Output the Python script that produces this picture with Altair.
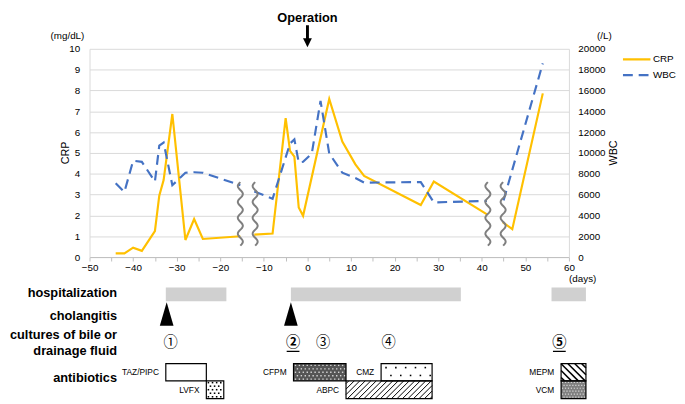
import altair as alt
import pandas as pd

# ---------------- values ----------------
series_names = ["CRP", "WBC"]

crp_day_1 = [-44, -42, -40, -38, -35, -34, -33, -31, -28, -26, -24, -15.4]
crp_val_1 = [0.18, 0.18, 0.45, 0.30, 1.25, 2.95, 3.70, 6.87, 0.82, 1.83, 0.87, 1.00]
crp_day_2 = [-12.2, -8, -5, -4, -3, -2, -1, 5, 8, 11, 13, 26, 29, 41.2]
crp_val_2 = [1.08, 1.13, 6.67, 5.10, 4.82, 2.38, 1.98, 7.59, 5.55, 4.45, 3.90, 2.50, 3.63, 2.05]
crp_day_3 = [44.8, 47, 54]
crp_val_3 = [1.68, 1.34, 7.86]

wbc_day_1 = [-44, -42, -40, -38, -35, -34, -33, -31, -28, -26, -24, -15.4]
wbc_val_1 = [7100, 6250, 9250, 9150, 7250, 10700, 11000, 6900, 8100, 8150, 8100, 6900]
wbc_day_2 = [-12.2, -8, -4, -3, -2, -1, 1, 3, 5, 8, 11, 13, 26, 29, 41.2]
wbc_val_2 = [6300, 5600, 10900, 11300, 9100, 9150, 9950, 15000, 9950, 8100, 7600, 7150, 7200, 5250, 5400]
wbc_day_3 = [45.0, 54]
wbc_val_3 = [5450, 18600]

operation_day = [0]
operation_label = ["Operation"]

hosp_start = [-32.5, -3.8, 56.0]
hosp_end = [-18.6, 35.2, 63.9]
cholangitis_day = [-32.3, -3.8]
culture_day = [-31.4, -3.3, 3.6, 18.6, 57.8]
culture_label = ["①", "②", "③", "④", "⑤"]
culture_key = [False, True, False, False, True]

abx_name = ["TAZ/PIPC", "LVFX", "CFPM", "ABPC", "CMZ", "MEPM", "VCM"]
abx_start = [-32.5, -23.2, -3.2, 8.85, 16.9, 58.2, 58.2]
abx_end = [-23.2, -19.2, 8.85, 28.6, 28.6, 63.9, 63.9]
abx_row = ["upper", "lower", "upper", "lower", "upper", "upper", "lower"]

break_day = [-15.4, -12.0, 41.4, 44.9]
row_label = ["hospitalization", "cholangitis", "cultures of bile or", "drainage fluid", "antibiotics"]

x_tick_values = list(range(-50, 61, 5))
crp_tick_values = list(range(0, 11))
wbc_tick_values = list(range(0, 20001, 2000))

# ---------------- layout / style ----------------
W, H = 488, 212
S = W / 110.0
FONT = "Liberation Sans"
CRP_COLOR = "#FFC000"
WBC_COLOR = "#4472C4"
HOSP_Y = (H + 31, H + 45)
TRI_Y = H + 58
CULT_Y = H + 88
ULINE_Y = H + 96
ROW_Y = {"upper": (H + 108.5, H + 126), "lower": (H + 126, H + 144)}
LABEL_Y = [H + 37, H + 60, H + 79.5, H + 95.5, H + 123]
abx_fill = {"TAZ/PIPC": "white", "LVFX": "white", "CFPM": "#555555", "ABPC": "white",
            "CMZ": "white", "MEPM": "white", "VCM": "#808080"}

# ---------------- tables ----------------
def seg_df(days_list, vals_list, col):
    rows = []
    for s, (ds, vs) in enumerate(zip(days_list, vals_list)):
        for i, (d, v) in enumerate(zip(ds, vs)):
            rows.append({"day": d, col: v, "seg": s, "i": i})
    return pd.DataFrame(rows)

crp_df = seg_df([crp_day_1, crp_day_2, crp_day_3], [crp_val_1, crp_val_2, crp_val_3], "crp")
wbc_df = seg_df([wbc_day_1, wbc_day_2, wbc_day_3], [wbc_val_1, wbc_val_2, wbc_val_3], "wbc")
hosp_df = pd.DataFrame({"start": hosp_start, "end": hosp_end})
chol_df = pd.DataFrame({"day": cholangitis_day})
cult_df = pd.DataFrame({"day": culture_day, "label": culture_label, "key": culture_key})
abx_df = pd.DataFrame({"name": abx_name, "start": abx_start, "end": abx_end, "row": abx_row})
brk_df = pd.DataFrame({"bx": break_day, "bid": list(range(len(break_day)))})
op_df = pd.DataFrame({"day": operation_day, "label": operation_label})
leg_df = pd.DataFrame({"name": series_names})
lab_df = pd.DataFrame({"label": row_label})

# ---------------- scales / axes ----------------
xscale = alt.Scale(domain=[-50, 60], nice=False, zero=False)
xaxis = alt.Axis(values=x_tick_values, labelExpr="datum.value % 10 == 0 ? datum.label : ''",
                 grid=False, domainColor="#bfbfbf", tickColor="#bfbfbf", tickSize=4,
                 labelFontSize=10, labelFont=FONT, labelColor="black", labelPadding=2,
                 labelFlush=False, labelOverlap=False, title=None)


def X(f):
    return alt.X(f, type="quantitative", scale=xscale, axis=xaxis)


crp_scale = alt.Scale(domain=[0, 10], nice=False, zero=False)
crp_axis = alt.Axis(values=crp_tick_values, format="d", grid=True, gridColor="#d9d9d9",
                    domainColor="#d9d9d9", ticks=False, labelPadding=10, labelFontSize=10,
                    labelFont=FONT, labelColor="black", title=None, orient="left")
wbc_scale = alt.Scale(domain=[0, 20000], nice=False, zero=False)
wbc_axis = alt.Axis(values=wbc_tick_values, format="d", grid=False, domainColor="#d9d9d9",
                    ticks=False, labelPadding=9, labelFontSize=10, labelFont=FONT,
                    labelColor="black", title=None, orient="right")


def Y3(f):
    return alt.Y(f, type="quantitative", scale=crp_scale, axis=None)


# ---------------- group 1 : CRP ----------------
crp_line = alt.Chart(crp_df).mark_line(color=CRP_COLOR, strokeWidth=2.2).encode(
    x=X("day"), y=alt.Y("crp", type="quantitative", scale=crp_scale, axis=crp_axis),
    detail="seg:N", order="i:Q")
g1 = alt.layer(crp_line)

# ---------------- group 2 : WBC ----------------
wbc_line = alt.Chart(wbc_df).mark_line(color=WBC_COLOR, strokeWidth=2.2, strokeDash=[10, 6]).encode(
    x=X("day"), y=alt.Y("wbc", type="quantitative", scale=wbc_scale, axis=wbc_axis),
    detail="seg:N", order="i:Q")
g2 = alt.layer(wbc_line)

# ---------------- group 3 : annotations ----------------
layers = []

# axis break symbols
brk = (alt.Chart(brk_df)
       .transform_calculate(t="sequence(0, 1.0001, 0.02)")
       .transform_flatten(["t"])
       .transform_calculate(wx=f"datum.bx + {2.6 / S}*sin(2*PI*4*datum.t)")
       .transform_calculate(wy="0.55 + 3.05*datum.t")
       .mark_line(color="#7f7f7f", strokeWidth=2)
       .encode(x=X("wx"), y=Y3("wy"), detail="bid:N", order="t:Q"))
layers.append(brk)

# axis unit / title texts
def ptext(txt, x, y, size=10, angle=0, weight="normal", align="center"):
    return alt.Chart(pd.DataFrame({"t": [txt]})).mark_text(
        font=FONT, fontSize=size, angle=angle, fontWeight=weight, align=align,
        baseline="middle", color="black").encode(text="t:N", x=alt.value(x), y=alt.value(y))

layers += [
    ptext("(mg/dL)", -22.5, -13),
    ptext("(/L)", W + 36, -13),
    ptext("CRP", -24, H / 2, size=11, angle=270),
    ptext("WBC", W + 46, H / 2, size=11, angle=270),
    ptext("(days)", W + 14, H + 22),
]

# legend
for nm, yy, dash in [("CRP", 10.7, [1, 0]), ("WBC", 26.7, [10, 6])]:
    col = CRP_COLOR if nm == "CRP" else WBC_COLOR
    layers.append(alt.Chart(leg_df).transform_filter(alt.datum.name == nm)
                  .mark_rule(color=col, strokeWidth=2.2, strokeDash=dash)
                  .encode(x=alt.value(W + 55), x2=alt.value(W + 83), y=alt.value(yy)))
    layers.append(alt.Chart(leg_df).transform_filter(alt.datum.name == nm)
                  .mark_text(font=FONT, fontSize=10, align="left", baseline="middle", color="black")
                  .encode(text="name:N", x=alt.value(W + 85.5), y=alt.value(yy)))

# operation arrow
layers.append(alt.Chart(op_df).mark_text(font=FONT, fontSize=13, fontWeight="bold", color="black",
                                         baseline="middle").encode(x=X("day"), y=alt.value(-31), text="label:N"))
layers.append(alt.Chart(op_df).mark_rule(color="black", strokeWidth=3).encode(
    x=X("day"), y=alt.value(-24), y2=alt.value(-9)))
layers.append(alt.Chart(op_df).mark_point(shape="M-1,-1L1,-1L0,1Z", size=81, filled=True,
                                          color="black", opacity=1).encode(x=X("day"), y=alt.value(-6.2)))

# row labels
for lab, yy in zip(row_label, LABEL_Y):
    layers.append(alt.Chart(lab_df).transform_filter(alt.datum.label == lab)
                  .mark_text(font=FONT, fontSize=13, fontWeight="bold", align="right",
                             baseline="middle", color="black")
                  .encode(text="label:N", x=alt.value(28), y=alt.value(yy)))

# hospitalization
layers.append(alt.Chart(hosp_df).mark_rect(color="#d0d0d0").encode(
    x=X("start"), x2="end", y=alt.value(HOSP_Y[0]), y2=alt.value(HOSP_Y[1])))

# cholangitis triangles
layers.append(alt.Chart(chol_df).mark_point(shape="M0,-1L0.58,1L-0.58,1Z", size=576, filled=True,
                                            color="black", opacity=1)
              .encode(x=X("day"), y=alt.value(TRI_Y)))

# cultures
for key, wt in [(False, "normal"), (True, "bold")]:
    layers.append(alt.Chart(cult_df).transform_filter(alt.datum.key == key)
                  .mark_text(font="Noto Sans CJK JP", fontSize=14.5, fontWeight=wt, color="black",
                             baseline="middle")
                  .encode(x=X("day"), y=alt.value(CULT_Y), text="label:N"))
layers.append(alt.Chart(cult_df).transform_filter(alt.datum.key == True)
              .mark_point(shape="M-1,0L1,0", size=169, strokeWidth=1.3, color="black",
                          filled=False, opacity=1)
              .encode(x=X("day"), y=alt.value(ULINE_Y)))

# antibiotic boxes (fill)
fill_scale = alt.Scale(domain=abx_name, range=[abx_fill[n] for n in abx_name])
for row in ["upper", "lower"]:
    layers.append(alt.Chart(abx_df).transform_filter(alt.datum.row == row)
                  .mark_rect(strokeWidth=0)
                  .encode(x=X("start"), x2="end", y=alt.value(ROW_Y[row][0]),
                          y2=alt.value(ROW_Y[row][1]),
                          fill=alt.Fill("name:N", scale=fill_scale, legend=None)))

yt_expr = f"datum.row == 'upper' ? {ROW_Y['upper'][0]} : {ROW_Y['lower'][0]}"
yb_expr = f"datum.row == 'upper' ? {ROW_Y['upper'][1]} : {ROW_Y['lower'][1]}"


def box_base(names):
    return (alt.Chart(abx_df)
            .transform_filter(alt.FieldOneOfPredicate(field="name", oneOf=names))
            .transform_calculate(pl=f"(datum.start + 50) * {S}")
            .transform_calculate(pr=f"(datum.end + 50) * {S}")
            .transform_calculate(yt=yt_expr)
            .transform_calculate(yb=yb_expr))


def hatch(names, direction, gap, width):
    b = box_base(names)
    if direction == "fwd":
        b = b.transform_calculate(c0="datum.pl + datum.yt").transform_calculate(c1="datum.pr + datum.yb")
    else:
        b = b.transform_calculate(c0="datum.pl - datum.yb").transform_calculate(c1="datum.pr - datum.yt")
    b = (b.transform_calculate(k=f"sequence(0, ceil((datum.c1 - datum.c0) / {gap}))")
         .transform_flatten(["k"])
         .transform_calculate(c=f"datum.c0 + (datum.k + 0.5) * {gap}"))
    if direction == "fwd":
        b = (b.transform_calculate(xs="max(datum.pl, datum.c - datum.yb)")
             .transform_calculate(xe="min(datum.pr, datum.c - datum.yt)")
             .transform_calculate(ys="datum.c - datum.xs")
             .transform_calculate(ye="datum.c - datum.xe"))
    else:
        b = (b.transform_calculate(xs="max(datum.pl, datum.c + datum.yt)")
             .transform_calculate(xe="min(datum.pr, datum.c + datum.yb)")
             .transform_calculate(ys="datum.xs - datum.c")
             .transform_calculate(ye="datum.xe - datum.c"))
    b = (b.transform_filter("datum.xe > datum.xs + 0.3")
         .transform_calculate(d1=f"datum.xs / {S} - 50")
         .transform_calculate(d2=f"datum.xe / {S} - 50")
         .transform_calculate(v1=f"10 * ({H} - datum.ys) / {H}")
         .transform_calculate(v2=f"10 * ({H} - datum.ye) / {H}"))
    return b.mark_rule(color="black", strokeWidth=width).encode(
        x=X("d1"), x2="d2", y=Y3("v1"), y2="v2")


def dots(names, gx, gy, size, color, stagger):
    b = (box_base(names)
         .transform_calculate(ci=f"sequence(0, ceil((datum.pr - datum.pl) / {gx}) + 1)")
         .transform_calculate(rj=f"sequence(0, floor((datum.yb - datum.yt) / {gy}))")
         .transform_flatten(["ci"])
         .transform_flatten(["rj"])
         .transform_calculate(px=f"datum.pl + (datum.ci + 0.5) * {gx} + (datum.rj % 2) * {gx / 2 if stagger else 0}")
         .transform_calculate(py=f"datum.yt + (datum.rj + 0.5) * {gy}")
         .transform_filter("datum.px > datum.pl + 1 && datum.px < datum.pr - 1")
         .transform_calculate(dd=f"datum.px / {S} - 50")
         .transform_calculate(vv=f"10 * ({H} - datum.py) / {H}"))
    return b.mark_square(size=size, color=color, opacity=1).encode(x=X("dd"), y=Y3("vv"))


layers.append(hatch(["ABPC"], "fwd", 5.6, 1.0))
layers.append(hatch(["MEPM"], "back", 7.0, 1.5))
layers.append(dots(["LVFX"], 4.2, 3.6, 2.5, "black", True))
layers.append(dots(["CMZ"], 10, 8, 2.5, "black", True))
layers.append(dots(["CFPM"], 4, 3.5, 2.0, "#d8d8d8", True))
layers.append(dots(["VCM"], 3, 3, 1.5, "#d8d8d8", True))

# antibiotic boxes (outline) and labels
for row in ["upper", "lower"]:
    layers.append(alt.Chart(abx_df).transform_filter(alt.datum.row == row)
                  .mark_rect(fillOpacity=0, stroke="black", strokeWidth=1.2)
                  .encode(x=X("start"), x2="end", y=alt.value(ROW_Y[row][0]),
                          y2=alt.value(ROW_Y[row][1])))
    layers.append(alt.Chart(abx_df).transform_filter(alt.datum.row == row)
                  .mark_text(font=FONT, fontSize=8.5, align="right", dx=-7, baseline="middle",
                             color="black")
                  .encode(x=X("start"), y=alt.value((ROW_Y[row][0] + ROW_Y[row][1]) / 2),
                          text="name:N"))

g3 = alt.layer(*layers)

chart = (alt.layer(g1, g2, g3)
         .resolve_scale(y="independent")
         .properties(width=W, height=H, padding=1)
         .configure_view(strokeWidth=0))

chart.save("out.html", embed_options={"renderer": "svg", "actions": False})
